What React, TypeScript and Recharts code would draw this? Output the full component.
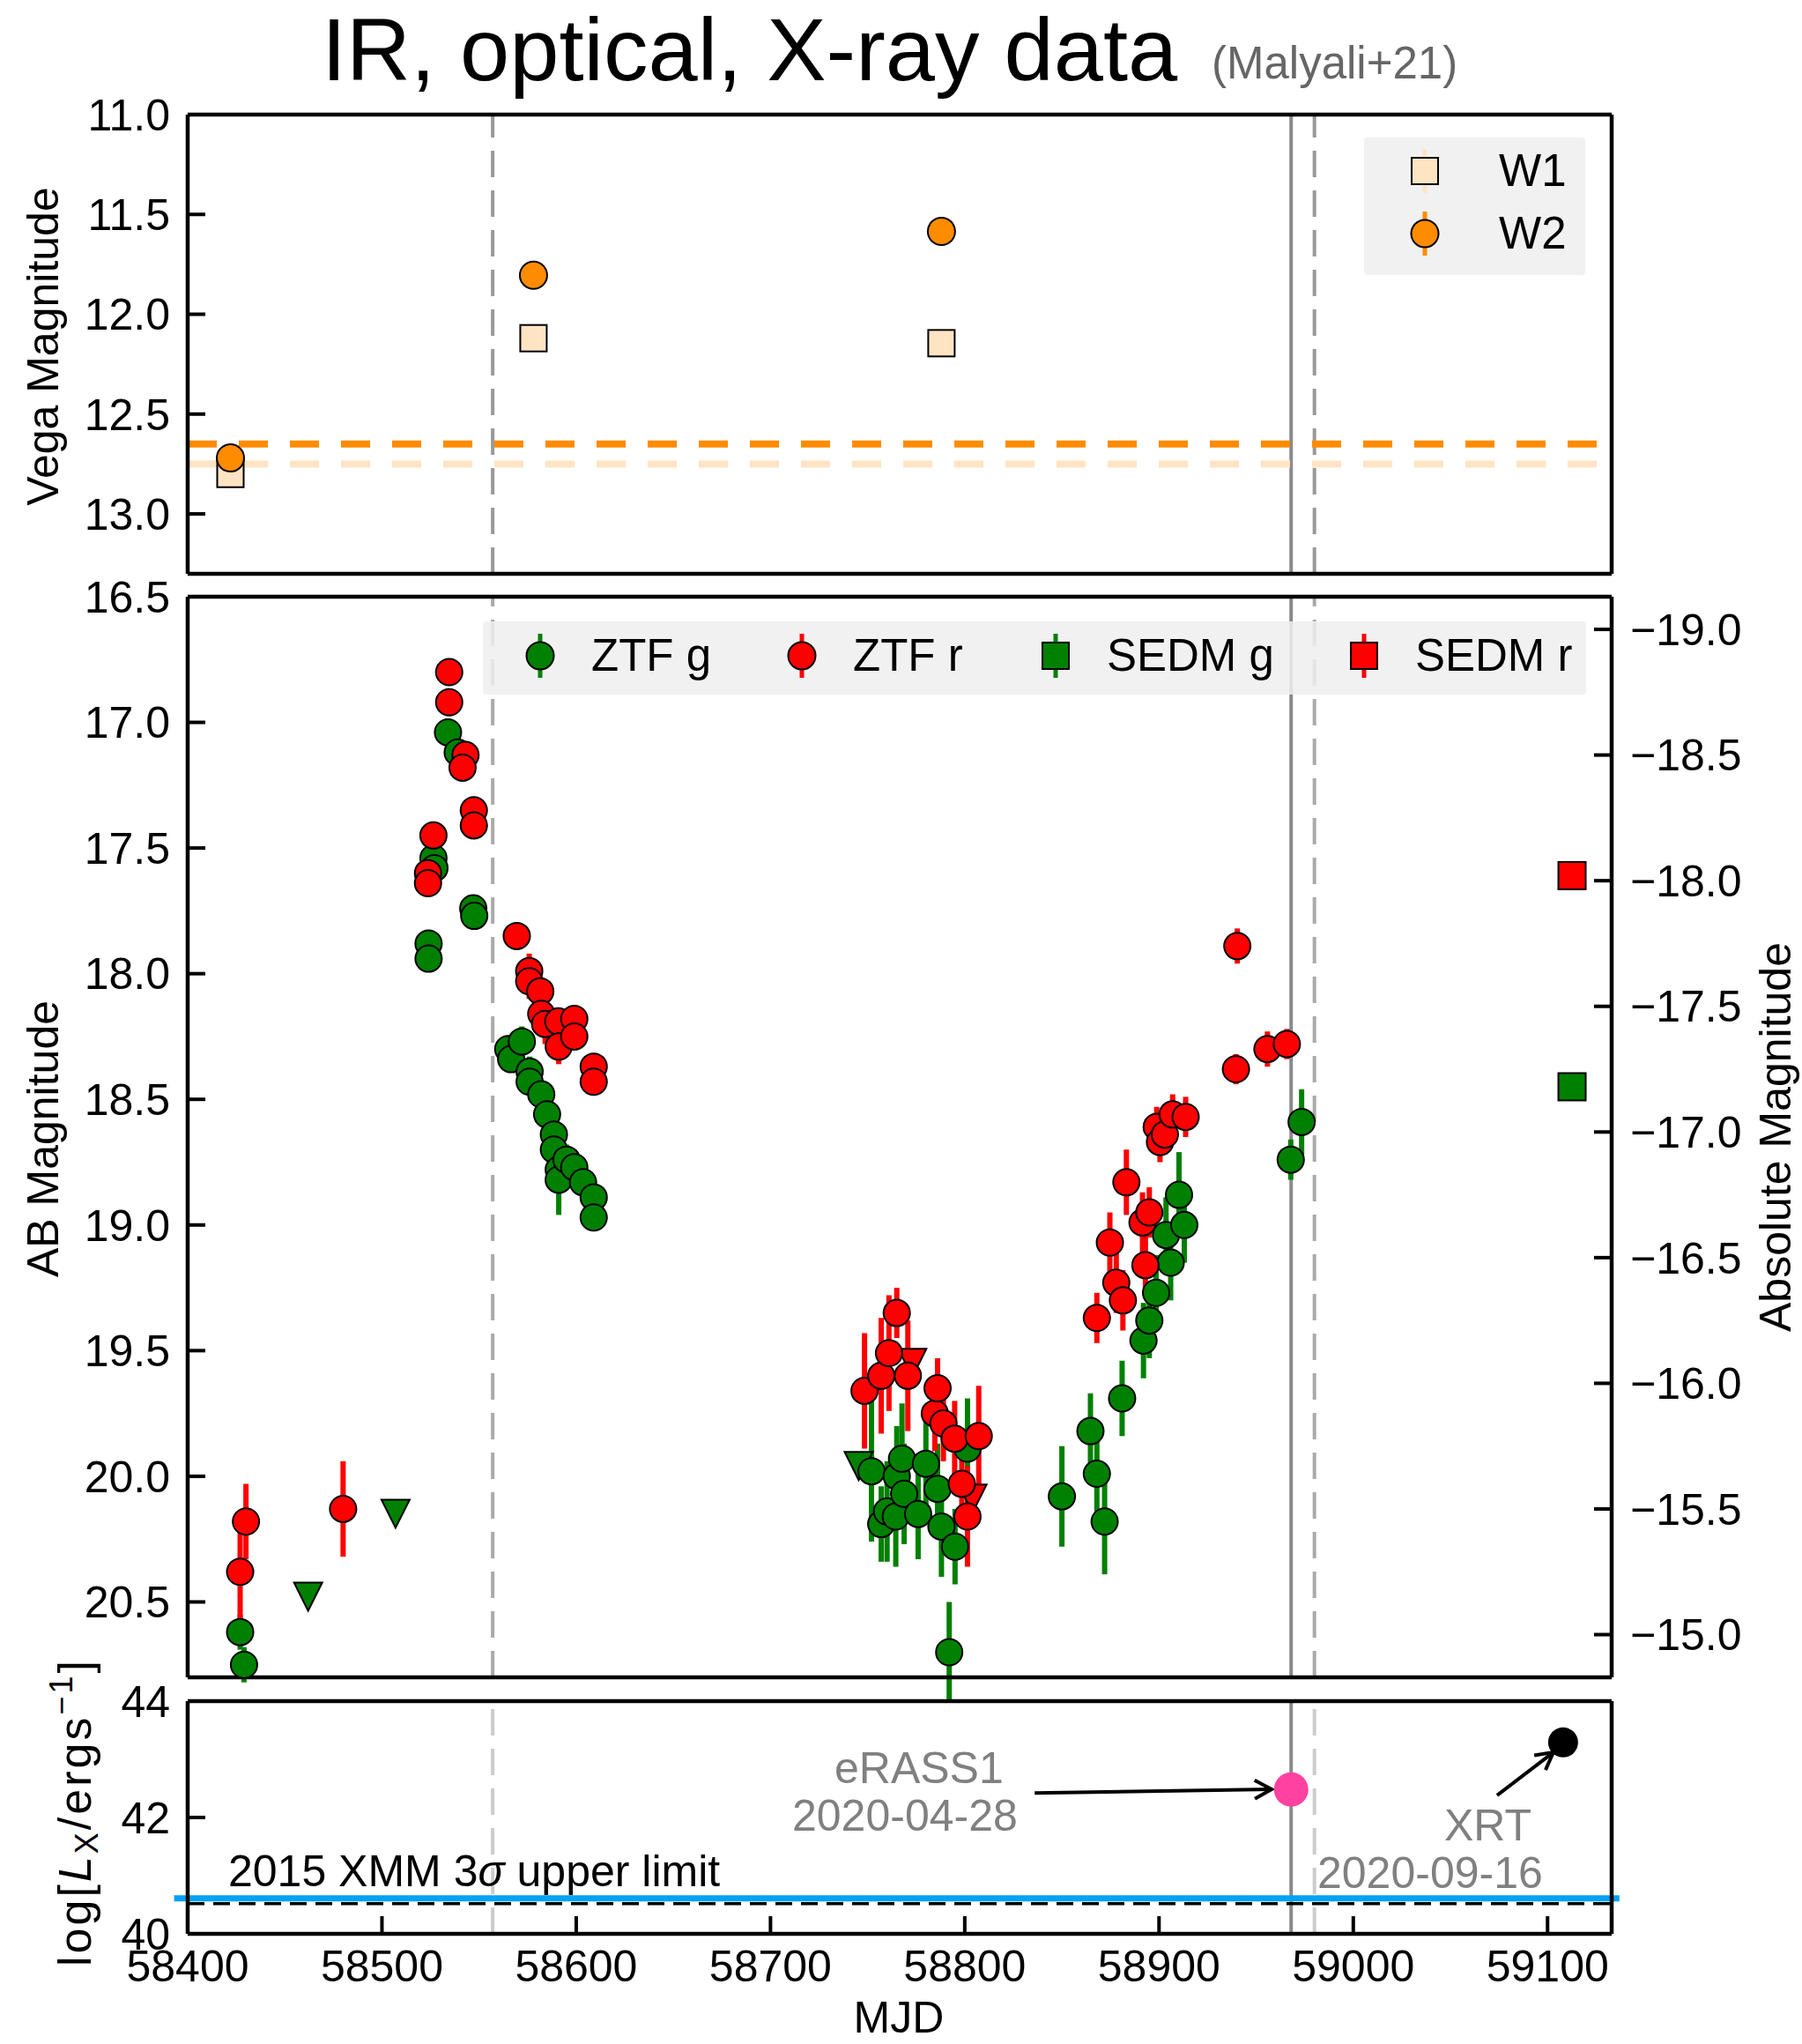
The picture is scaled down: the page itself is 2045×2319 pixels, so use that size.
import React from 'react';
import { ScatterChart, Scatter, XAxis, YAxis, ErrorBar, ReferenceLine } from 'recharts';

const FONT = '"Liberation Sans", Arial, Helvetica, sans-serif';
const W = 2045;

// shared x axis (MJD)
const mjdDomain = [58400, 59133];
const mjdTicks = [58400, 58500, 58600, 58700, 58800, 58900, 59000, 59100];
const guideLines = [58557, 58968, 58980]; // dashed, solid (eRASS1), dashed

// WISE (Vega)
const w1Mjd = [58422, 58578, 58788];
const w1Mag = [12.8, 12.12, 12.145];
const w1Err = [0.03, 0.03, 0.03];
const w2Mjd = [58422, 58578, 58788];
const w2Mag = [12.72, 11.805, 11.585];
const w2Err = [0.07, 0.04, 0.04];
const w1Quiescent = 12.75;
const w2Quiescent = 12.65;
const vegaTicks = [11.0, 11.5, 12.0, 12.5, 13.0];

// ZTF g
const ztfGMjd = [58427, 58429, 58524, 58524, 58526.5, 58527, 58534, 58539, 58547, 58547.5,
  58565, 58566.5, 58572, 58576, 58576, 58582, 58585, 58588.5, 58588.5, 58591, 58591, 58595,
  58599, 58603.5, 58609, 58609,
  58752, 58757, 58760, 58764.5, 58765, 58767.7, 58768.8, 58776, 58780, 58786, 58788, 58792,
  58795, 58801.4,
  58850, 58864.7, 58868, 58872, 58881, 58892, 58895, 58898.5, 58903.6, 58906, 58910.3, 58913,
  58967.8, 58973.4];
const ztfGMag = [20.62, 20.75, 17.88, 17.94, 17.54, 17.58, 17.04, 17.12, 17.74, 17.77,
  18.3, 18.34, 18.27, 18.39, 18.43, 18.48, 18.56, 18.64, 18.7, 18.78, 18.82, 18.74,
  18.77, 18.83, 18.89, 18.97,
  19.98, 20.19, 20.14, 20.16, 20.0, 19.93, 20.07, 20.15, 19.95, 20.05, 20.2, 20.7,
  20.28, 19.89,
  20.08, 19.82, 19.99, 20.18, 19.69, 19.46, 19.38, 19.27, 19.04, 19.15, 18.88, 19.0,
  18.74, 18.59];
const ztfGErr = [0.07, 0.07, 0.03, 0.03, 0.03, 0.03, 0.04, 0.04, 0.03, 0.03,
  0.04, 0.04, 0.06, 0.06, 0.05, 0.05, 0.06, 0.07, 0.07, 0.05, 0.14, 0.06,
  0.05, 0.05, 0.05, 0.05,
  0.28, 0.15, 0.2, 0.2, 0.2, 0.22, 0.2, 0.18, 0.18, 0.18, 0.2, 0.2,
  0.15, 0.2,
  0.2, 0.15, 0.15, 0.21, 0.15, 0.15, 0.15, 0.15, 0.15, 0.15, 0.17, 0.15,
  0.08, 0.13];

// ZTF r
const ztfRMjd = [58427, 58430, 58480,
  58523.7, 58523.7, 58526.5, 58534.6, 58534.6, 58543, 58541.5, 58547.3, 58547.3,
  58569.4, 58575.8, 58575.8, 58581.5, 58582, 58584, 58590.8, 58591, 58599, 58599, 58609, 58609,
  58748.4, 58757, 58761, 58765, 58770.7, 58784.6, 58786, 58789, 58794.8, 58798.5, 58801.4, 58807.2,
  58868, 58874.7, 58878, 58881.4, 58883.2, 58891.5, 58893, 58895, 58898.8, 58900.5, 58903, 58907, 58913.7,
  58939.6, 58940.3, 58955.8, 58965.8];
const ztfRMag = [20.38, 20.18, 20.13,
  17.6, 17.64, 17.45, 16.8, 16.92, 17.13, 17.18, 17.35, 17.41,
  17.85, 17.99, 18.03, 18.07, 18.16, 18.2, 18.19, 18.29, 18.18, 18.25, 18.37, 18.43,
  19.66, 19.6, 19.51, 19.35, 19.6, 19.75, 19.65, 19.79, 19.85, 20.03, 20.16, 19.84,
  19.37, 19.07, 19.23, 19.3, 18.83, 18.99, 19.16, 18.95, 18.61, 18.67, 18.64, 18.56, 18.57,
  18.38, 17.89, 18.3, 18.28];
const ztfRErr = [0.2, 0.15, 0.19,
  0.04, 0.04, 0.04, 0.05, 0.04, 0.05, 0.05, 0.04, 0.04,
  0.04, 0.07, 0.07, 0.05, 0.06, 0.08, 0.05, 0.07, 0.05, 0.05, 0.05, 0.05,
  0.23, 0.23, 0.23, 0.1, 0.22, 0.15, 0.12, 0.15, 0.15, 0.15, 0.2, 0.2,
  0.1, 0.12, 0.12, 0.12, 0.13, 0.12, 0.12, 0.1, 0.08, 0.08, 0.08, 0.08, 0.08,
  0.06, 0.07, 0.07, 0.06];

// ZTF upper limits
const ztfGLimMjd = [58462, 58507, 58745.4];
const ztfGLimMag = [20.47, 20.14, 19.95];
const ztfRLimMjd = [58773, 58804];
const ztfRLimMag = [19.54, 20.08];

// SEDM
const sedmGMjd = [59112.6];
const sedmGMag = [18.45];
const sedmGErr = [0.02];
const sedmRMjd = [59112.6];
const sedmRMag = [17.61];
const sedmRErr = [0.03];

const abTicks = [16.5, 17.0, 17.5, 18.0, 18.5, 19.0, 19.5, 20.0, 20.5];
const abDomain = [16.5, 20.8];
const distMod = 35.63;
const absTicks = [-19.0, -18.5, -18.0, -17.5, -17.0, -16.5, -16.0, -15.5, -15.0];

// X-ray
const erassMjd = [58968];
const erassLx = [42.48];
const xrtMjd = [59108];
const xrtLx = [43.29];
const xmmLimit = 40.52;
const blueLevel = 40.61;
const lxTicks = [40, 42, 44];

const pts = (xs: number[], ys: number[], es?: number[]) =>
  xs.map((x, i) => ({ x, y: ys[i], e: es ? es[i] : 0 }));

const W1C = '#ffe4c4';
const W2C = '#ff8c00';
const GC = '#008000';
const RC = '#ff0000';

const frame = { stroke: '#000', strokeWidth: 4.5 };
const tickLn = { stroke: '#000', strokeWidth: 4 };
const tickFont = { fontSize: 50, fill: '#000', fontFamily: FONT };

const circle = (fill: string, r: number, edge = '#000') => (p: any) =>
  <circle cx={p.cx} cy={p.cy} r={r} fill={fill} stroke={edge} strokeWidth={2} />;
const square = (fill: string, s: number) => (p: any) =>
  <rect x={p.cx - s / 2} y={p.cy - s / 2} width={s} height={s} fill={fill} stroke="#000" strokeWidth={2} />;
const downTri = (fill: string, s: number) => (p: any) =>
  <polygon points={`${p.cx - s / 2},${p.cy - s * 0.42} ${p.cx + s / 2},${p.cy - s * 0.42} ${p.cx},${p.cy + s * 0.58}`}
    fill={fill} stroke="#000" strokeWidth={2} />;

const Arrow = (p: any) => {
  const { x1, y1, x2, y2 } = p;
  const a = Math.atan2(y2 - y1, x2 - x1);
  const L = 22;
  const h1x = x2 - L * Math.cos(a - 0.5), h1y = y2 - L * Math.sin(a - 0.5);
  const h2x = x2 - L * Math.cos(a + 0.5), h2y = y2 - L * Math.sin(a + 0.5);
  return (
    <g>
      <line x1={x1} y1={y1} x2={x2} y2={y2} stroke="#000" strokeWidth={4} />
      <polyline points={`${h1x},${h1y} ${x2},${y2} ${h2x},${h2y}`} fill="none" stroke="#000" strokeWidth={4} />
    </g>
  );
};

const xAxes = (labels: boolean) => [
  <XAxis key="xb" xAxisId="b" type="number" dataKey="x" domain={mjdDomain} ticks={mjdTicks}
    allowDataOverflow interval={0} axisLine={frame} tickLine={tickLn} tickSize={-20} tickMargin={38}
    height={labels ? 60 : 1} tick={labels ? tickFont : false} />,
  <XAxis key="xt" xAxisId="t" orientation="top" type="number" dataKey="x" domain={mjdDomain}
    ticks={mjdTicks} allowDataOverflow interval={0} axisLine={frame} tickLine={tickLn}
    tickSize={-20} height={1} tick={false} />,
];

const guides = (dashColor: string) => guideLines.map((m, i) => (
  <ReferenceLine key={'g' + i} x={m} xAxisId="b" yAxisId="l" stroke={i === 1 ? '#8a8a8a' : dashColor}
    strokeWidth={4} strokeDasharray={i === 1 ? undefined : '30 15'} />
));

const fmt1 = (v: number) => v.toFixed(1);
const fmtAbs = (v: number) => (v < 0 ? '\u2212' : '') + Math.abs(v).toFixed(1);

type LegendItem = { name: string; color: string; kind: 'circle' | 'square' };
const wiseLegend: LegendItem[] = [
  { name: 'W1', color: W1C, kind: 'square' },
  { name: 'W2', color: W2C, kind: 'circle' },
];
const optLegend: LegendItem[] = [
  { name: 'ZTF g', color: GC, kind: 'circle' },
  { name: 'ZTF r', color: RC, kind: 'circle' },
  { name: 'SEDM g', color: GC, kind: 'square' },
  { name: 'SEDM r', color: RC, kind: 'square' },
];

const Icon = ({ item }: { item: LegendItem }) => (
  <svg width={40} height={60} style={{ display: 'block' }}>
    <line x1={20} y1={5} x2={20} y2={55} stroke={item.color} strokeWidth={5} />
    {item.kind === 'circle'
      ? <circle cx={20} cy={30} r={15.5} fill={item.color} stroke="#000" strokeWidth={2} />
      : <rect x={5} y={15} width={30} height={30} fill={item.color} stroke="#000" strokeWidth={2} />}
  </svg>
);

const legendBox: React.CSSProperties = {
  position: 'absolute', background: 'rgba(238,238,238,0.85)', borderRadius: 4,
  fontFamily: FONT, fontSize: 51, color: '#000',
};

export default function App() {
  return (
    <div style={{ position: 'absolute', left: 0, top: 0, width: W, height: 2319, background: '#fff' }}>
      {/* WISE panel */}
      <div style={{ position: 'absolute', left: 0, top: 100 }}>
        <ScatterChart width={W} height={600} margin={{ top: 29, right: 215, bottom: 48, left: 113 }}>
          {xAxes(false)}
          <YAxis yAxisId="l" type="number" dataKey="y" domain={[11.0, 13.3]} reversed ticks={vegaTicks}
            allowDataOverflow interval={0} width={100} axisLine={frame} tickLine={tickLn} tickSize={-20}
            tickMargin={40} tick={tickFont} tickFormatter={fmt1} />
          <YAxis yAxisId="r" orientation="right" type="number" dataKey="y" domain={[11.0, 13.3]} reversed
            ticks={vegaTicks} allowDataOverflow interval={0} width={1} axisLine={frame} tickLine={tickLn}
            tickSize={-20} tick={false} />
          {guides('#999999')}
          <ReferenceLine y={w2Quiescent} xAxisId="b" yAxisId="l" stroke={W2C} strokeWidth={8} strokeDasharray="33 25" />
          <ReferenceLine y={w1Quiescent} xAxisId="b" yAxisId="l" stroke={W1C} strokeWidth={8} strokeDasharray="33 25" />
          <Scatter name="W1" data={pts(w1Mjd, w1Mag, w1Err)} xAxisId="b" yAxisId="l" shape={square(W1C, 30)} isAnimationActive={false}>
            <ErrorBar dataKey="e" direction="y" width={0} stroke={W1C} strokeWidth={5} />
          </Scatter>
          <Scatter name="W2" data={pts(w2Mjd, w2Mag, w2Err)} xAxisId="b" yAxisId="l" shape={circle(W2C, 15.5)} isAnimationActive={false}>
            <ErrorBar dataKey="e" direction="y" width={0} stroke={W2C} strokeWidth={5} />
          </Scatter>
        </ScatterChart>
      </div>

      {/* optical panel */}
      <div style={{ position: 'absolute', left: 0, top: 640 }}>
        <ScatterChart width={W} height={1300} margin={{ top: 36, right: 66, bottom: 36, left: 113 }}>
          {xAxes(false)}
          <YAxis yAxisId="l" type="number" dataKey="y" domain={abDomain} reversed ticks={abTicks}
            allowDataOverflow interval={0} width={100} axisLine={frame} tickLine={tickLn} tickSize={-20}
            tickMargin={40} tick={tickFont} tickFormatter={fmt1} />
          <YAxis yAxisId="abs" orientation="right" type="number" dataKey="y"
            domain={[abDomain[0] - distMod, abDomain[1] - distMod]} reversed ticks={absTicks}
            allowDataOverflow interval={0} width={150} axisLine={frame} tickLine={tickLn} tickSize={-20}
            tickMargin={41} tick={tickFont} tickFormatter={fmtAbs} />
          {guides('#aaaaaa')}
          <Scatter name="ZTF g limits" data={pts(ztfGLimMjd, ztfGLimMag)} xAxisId="b" yAxisId="l" shape={downTri(GC, 32)} isAnimationActive={false} />
          <Scatter name="ZTF r limits" data={pts(ztfRLimMjd, ztfRLimMag)} xAxisId="b" yAxisId="l" shape={downTri(RC, 32)} isAnimationActive={false} />
          <Scatter name="ZTF g" data={pts(ztfGMjd, ztfGMag, ztfGErr)} xAxisId="b" yAxisId="l" shape={circle(GC, 15)} isAnimationActive={false}>
            <ErrorBar dataKey="e" direction="y" width={0} stroke={GC} strokeWidth={6} />
          </Scatter>
          <Scatter name="ZTF r" data={pts(ztfRMjd, ztfRMag, ztfRErr)} xAxisId="b" yAxisId="l" shape={circle(RC, 15)} isAnimationActive={false}>
            <ErrorBar dataKey="e" direction="y" width={0} stroke={RC} strokeWidth={6} />
          </Scatter>
          <Scatter name="SEDM g" data={pts(sedmGMjd, sedmGMag, sedmGErr)} xAxisId="b" yAxisId="l" shape={square(GC, 31)} isAnimationActive={false}>
            <ErrorBar dataKey="e" direction="y" width={0} stroke={GC} strokeWidth={5} />
          </Scatter>
          <Scatter name="SEDM r" data={pts(sedmRMjd, sedmRMag, sedmRErr)} xAxisId="b" yAxisId="l" shape={square(RC, 31)} isAnimationActive={false}>
            <ErrorBar dataKey="e" direction="y" width={0} stroke={RC} strokeWidth={5} />
          </Scatter>
        </ScatterChart>
      </div>

      {/* X-ray panel */}
      <div style={{ position: 'absolute', left: 0, top: 1890 }}>
        <ScatterChart width={W} height={429} margin={{ top: 39, right: 215, bottom: 65, left: 113 }}>
          {xAxes(true)}
          <YAxis yAxisId="l" type="number" dataKey="y" domain={[40, 44]} ticks={lxTicks}
            allowDataOverflow interval={0} width={100} axisLine={frame} tickLine={tickLn} tickSize={-20}
            tickMargin={40} tick={tickFont} />
          <YAxis yAxisId="r" orientation="right" type="number" dataKey="y" domain={[40, 44]} ticks={lxTicks}
            allowDataOverflow interval={0} width={1} axisLine={frame} tickLine={tickLn} tickSize={-20} tick={false} />
          {guides('#cccccc')}
          <ReferenceLine y={xmmLimit} xAxisId="b" yAxisId="l" stroke="#000" strokeWidth={3.5} strokeDasharray="19 10" />
          <ReferenceLine xAxisId="b" yAxisId="l" ifOverflow="visible"
            segment={[{ x: 58393, y: blueLevel }, { x: 59137, y: blueLevel }]} stroke="#00a3f4" strokeWidth={7} />
          <ReferenceLine xAxisId="b" yAxisId="l" ifOverflow="visible"
            segment={[{ x: 58836, y: 42.42 }, { x: 58958, y: 42.485 }]} shape={Arrow} />
          <ReferenceLine xAxisId="b" yAxisId="l" ifOverflow="visible"
            segment={[{ x: 59074, y: 42.38 }, { x: 59103, y: 43.12 }]} shape={Arrow} />
          <Scatter name="eRASS1" data={pts(erassMjd, erassLx)} xAxisId="b" yAxisId="l" shape={circle('#ff42a1', 19.5, 'none')} isAnimationActive={false} />
          <Scatter name="XRT" data={pts(xrtMjd, xrtLx)} xAxisId="b" yAxisId="l" shape={circle('#000', 17, 'none')} isAnimationActive={false} />
        </ScatterChart>
      </div>

      {/* legends */}
      <div style={{ ...legendBox, left: 1548, top: 156, width: 251, height: 156 }}>
        {wiseLegend.map((it, i) => (
          <div key={it.name} style={{ position: 'absolute', left: 49, top: 8 + i * 71, height: 60, display: 'flex', alignItems: 'center' }}>
            <Icon item={it} />
            <span style={{ marginLeft: 64, lineHeight: '60px' }}>{it.name}</span>
          </div>
        ))}
      </div>
      <div style={{ ...legendBox, left: 548, top: 705, width: 1252, height: 83 }}>
        {optLegend.map((it, i) => (
          <div key={it.name} style={{ position: 'absolute', left: [45, 342, 630, 980][i], top: 9, height: 60, display: 'flex', alignItems: 'center' }}>
            <Icon item={it} />
            <span style={{ marginLeft: 38, lineHeight: '60px' }}>{it.name}</span>
          </div>
        ))}
      </div>

      {/* titles and annotations */}
      <svg width={W} height={2319} style={{ position: 'absolute', left: 0, top: 0, pointerEvents: 'none' }}
        fontFamily={FONT}>
        <text x={365} y={91} fontSize={101} fill="#000">IR, optical, X-ray data</text>
        <text x={1375} y={89} fontSize={51} fill="#666">(Malyali+21)</text>

        <text transform="translate(66,393) rotate(-90)" textAnchor="middle" fontSize={50}>Vega Magnitude</text>
        <text transform="translate(66,1292) rotate(-90)" textAnchor="middle" fontSize={50}>AB Magnitude</text>
        <text transform="translate(2032,1290) rotate(-90)" textAnchor="middle" fontSize={50}>Absolute Magnitude</text>
        <text transform="translate(103,2056) rotate(-90)" textAnchor="middle" fontSize={52} letterSpacing={3}>
          log[<tspan fontStyle="italic">L</tspan><tspan fontSize={36} dy={8}>X</tspan>
          <tspan dy={-8}>/ergs</tspan><tspan fontSize={36} dy={-21}>{'\u22121'}</tspan><tspan dy={21}>]</tspan>
        </text>
        <text x={1020} y={2306} textAnchor="middle" fontSize={50}>MJD</text>

        <text x={259} y={2140} fontSize={50} fill="#000">2015 XMM 3<tspan fontStyle="italic">σ</tspan> upper limit</text>
        <text x={947} y={2023} fontSize={50} fill="#808080">eRASS1</text>
        <text x={899} y={2077} fontSize={50} fill="#808080">2020-04-28</text>
        <text x={1639} y={2088} fontSize={50} fill="#808080">XRT</text>
        <text x={1495} y={2142} fontSize={50} fill="#808080">2020-09-16</text>
      </svg>
    </div>
  );
}
